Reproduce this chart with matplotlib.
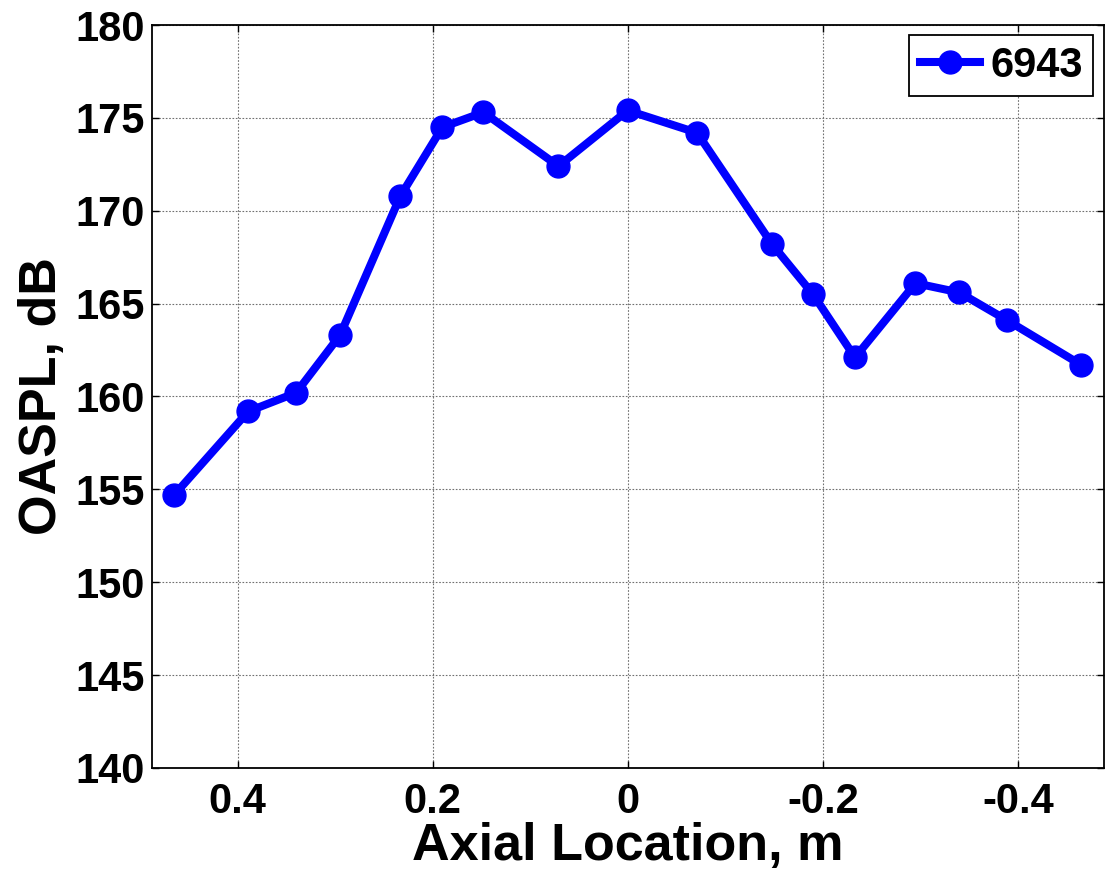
import matplotlib
matplotlib.use("Agg")
import matplotlib.pyplot as plt

plt.rcParams["font.family"] = ["Liberation Sans", "DejaVu Sans"]
plt.rcParams["font.weight"] = "bold"

# axial microphone positions (m) and overall sound pressure level (dB)
axial = [0.465, 0.389, 0.340, 0.295, 0.233, 0.190, 0.148, 0.071, 0.0,
         -0.071, -0.148, -0.190, -0.233, -0.295, -0.340, -0.389, -0.465]
oaspl = [154.7, 159.2, 160.2, 163.3, 170.8, 174.5, 175.3, 172.4, 175.4,
         174.2, 168.2, 165.5, 162.1, 166.1, 165.6, 164.1, 161.7]
run_label = "6943"

fig = plt.figure(figsize=(11.16, 8.72), dpi=100)
ax = fig.add_axes([0.136, 0.1193, 0.853, 0.852])

ax.plot(axial, oaspl, color="#0000ff", linewidth=5.8, marker="o",
        markersize=16.5, label=run_label)

ax.set_xlim(0.488, -0.488)
ax.set_ylim(140, 180)
ax.set_xticks([0.4, 0.2, 0, -0.2, -0.4])
ax.set_xticklabels(["0.4", "0.2", "0", "-0.2", "-0.4"])
ax.set_yticks(range(140, 181, 5))

ax.grid(True, color="#707070", linestyle=(0, (1.5, 1.5)), linewidth=0.8)
ax.tick_params(direction="in", length=5, width=1, labelsize=30,
               top=True, right=True)
ax.tick_params(axis="x", pad=10)
ax.tick_params(axis="y", pad=5)
for lbl in ax.get_xticklabels() + ax.get_yticklabels():
    lbl.set_fontweight("bold")
for sp in ax.spines.values():
    sp.set_linewidth(1.3)

ax.set_xlabel("Axial Location, m", fontsize=37.5, fontweight="bold", labelpad=0)
ax.set_ylabel("OASPL, dB", fontsize=37.5, fontweight="bold", labelpad=6)

leg = ax.legend(loc="upper right", fontsize=30, fancybox=False, framealpha=1,
                edgecolor="black", handlelength=1.45, handletextpad=0.25,
                borderpad=0.25, borderaxespad=0.25)
leg.get_frame().set_linewidth(1.3)
for t in leg.get_texts():
    t.set_fontweight("bold")

fig.savefig("out.png", dpi=100)
